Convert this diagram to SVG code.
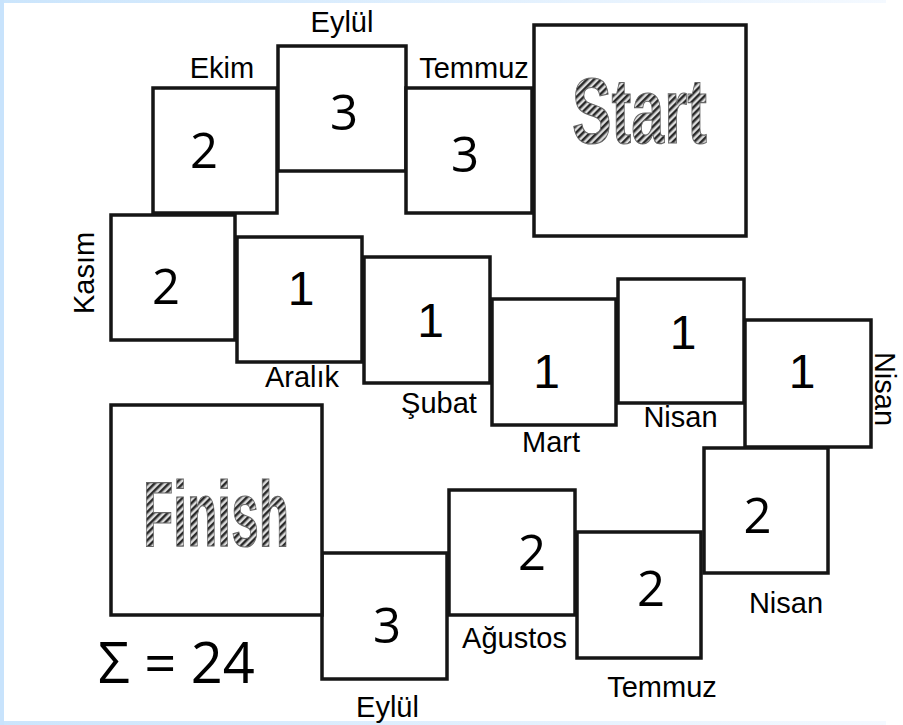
<svg xmlns="http://www.w3.org/2000/svg" width="903" height="725" viewBox="0 0 903 725">
<style>
.box{fill:#fff;stroke:#151515;stroke-width:3.5}
.lbl{font-family:"Liberation Sans",Arial,sans-serif;font-size:29px;fill:#000;text-anchor:middle}
.n1{font-family:"Liberation Sans",Arial,sans-serif;font-size:48px;fill:#000;text-anchor:middle}
.n23{font-family:"Open Sans","Noto Sans",sans-serif;font-size:49px;fill:#000;text-anchor:middle}
.big{font-family:"Liberation Sans",Arial,sans-serif;font-weight:bold;font-size:92px;fill:url(#hatch);stroke:#666;stroke-width:1.2;text-anchor:middle}
.sum{font-family:"Open Sans","Noto Sans",sans-serif;font-size:56px;fill:#000}
</style>
<defs>
<pattern id="hatch" patternUnits="userSpaceOnUse" width="5" height="5" patternTransform="rotate(45)">
<rect width="5" height="5" fill="#dcdcdc"/>
<rect width="2.5" height="5" fill="#2a2a2a"/>
</pattern>
<linearGradient id="edgeH" x1="0" y1="0" x2="1" y2="0">
<stop offset="0" stop-color="#cbe5fc"/>
<stop offset="1" stop-color="#f4f9ff"/>
</linearGradient>
</defs>
<rect width="903" height="725" fill="#fff"/>
<rect x="0" y="0" width="886" height="3" fill="url(#edgeH)"/>
<rect x="0" y="721" width="886" height="4" fill="url(#edgeH)"/>
<rect x="0" y="0" width="4" height="725" fill="#c8e3fc"/>

<g id="start">
<rect class="box" x="534" y="25" width="212" height="211"/>
<text class="big" x="639.5" y="143" textLength="135" lengthAdjust="spacingAndGlyphs">Start</text>
</g>
<g id="box-ekim">
<rect class="box" x="153" y="88" width="124" height="125"/>
<text class="n23" x="204" y="168">2</text>
<text class="lbl" x="222" y="78">Ekim</text>
</g>
<g id="box-eylul-top">
<rect class="box" x="278" y="46" width="128" height="125"/>
<text class="n23" x="344" y="130">3</text>
<text class="lbl" x="342" y="32">Eylül</text>
</g>
<g id="box-temmuz-top">
<rect class="box" x="406" y="88" width="126" height="125"/>
<text class="n23" x="465" y="172">3</text>
<text class="lbl" x="474" y="78">Temmuz</text>
</g>
<g id="box-kasim">
<rect class="box" x="111" y="215" width="124" height="125"/>
<text class="n23" x="166" y="304">2</text>
<text class="lbl" transform="translate(94,273) rotate(-90)">Kasım</text>
</g>
<g id="box-aralik">
<rect class="box" x="237" y="237" width="125" height="125"/>
<text class="n1" x="301" y="305">1</text>
<text class="lbl" x="302" y="387">Aralık</text>
</g>
<g id="box-subat">
<rect class="box" x="364" y="257" width="126" height="126"/>
<text class="n1" x="430.5" y="337">1</text>
<text class="lbl" x="439" y="413">Şubat</text>
</g>
<g id="box-mart">
<rect class="box" x="492" y="299" width="124" height="126"/>
<text class="n1" x="546.5" y="388">1</text>
<text class="lbl" x="551" y="452">Mart</text>
</g>
<g id="box-nisan-1">
<rect class="box" x="618" y="279" width="126" height="124"/>
<text class="n1" x="683" y="349">1</text>
<text class="lbl" x="680.5" y="427">Nisan</text>
</g>
<g id="box-nisan-2">
<rect class="box" x="745" y="320" width="126" height="127"/>
<text class="n1" x="802" y="388">1</text>
<text class="lbl" transform="translate(875,389) rotate(90)">Nisan</text>
</g>
<g id="box-nisan-3">
<rect class="box" x="704" y="448" width="124" height="125"/>
<text class="n23" x="757.5" y="533">2</text>
<text class="lbl" x="786" y="613">Nisan</text>
</g>
<g id="box-temmuz-bottom">
<rect class="box" x="577" y="532" width="124" height="126"/>
<text class="n23" x="651" y="606">2</text>
<text class="lbl" x="662" y="697">Temmuz</text>
</g>
<g id="box-agustos">
<rect class="box" x="449" y="490" width="126" height="125"/>
<text class="n23" x="532" y="570">2</text>
<text class="lbl" x="514.5" y="648">Ağustos</text>
</g>
<g id="box-eylul-bottom">
<rect class="box" x="322" y="553" width="125" height="126"/>
<text class="n23" x="387" y="643">3</text>
<text class="lbl" x="387.5" y="717">Eylül</text>
</g>
<g id="finish">
<rect class="box" x="111" y="405" width="211" height="210"/>
<text class="big" x="216" y="546" textLength="146" lengthAdjust="spacingAndGlyphs">Finish</text>
</g>
<g id="sum">
<text class="sum" x="98" y="683">Σ = 24</text>
</g>
<g id="connectors"/>
</svg>
